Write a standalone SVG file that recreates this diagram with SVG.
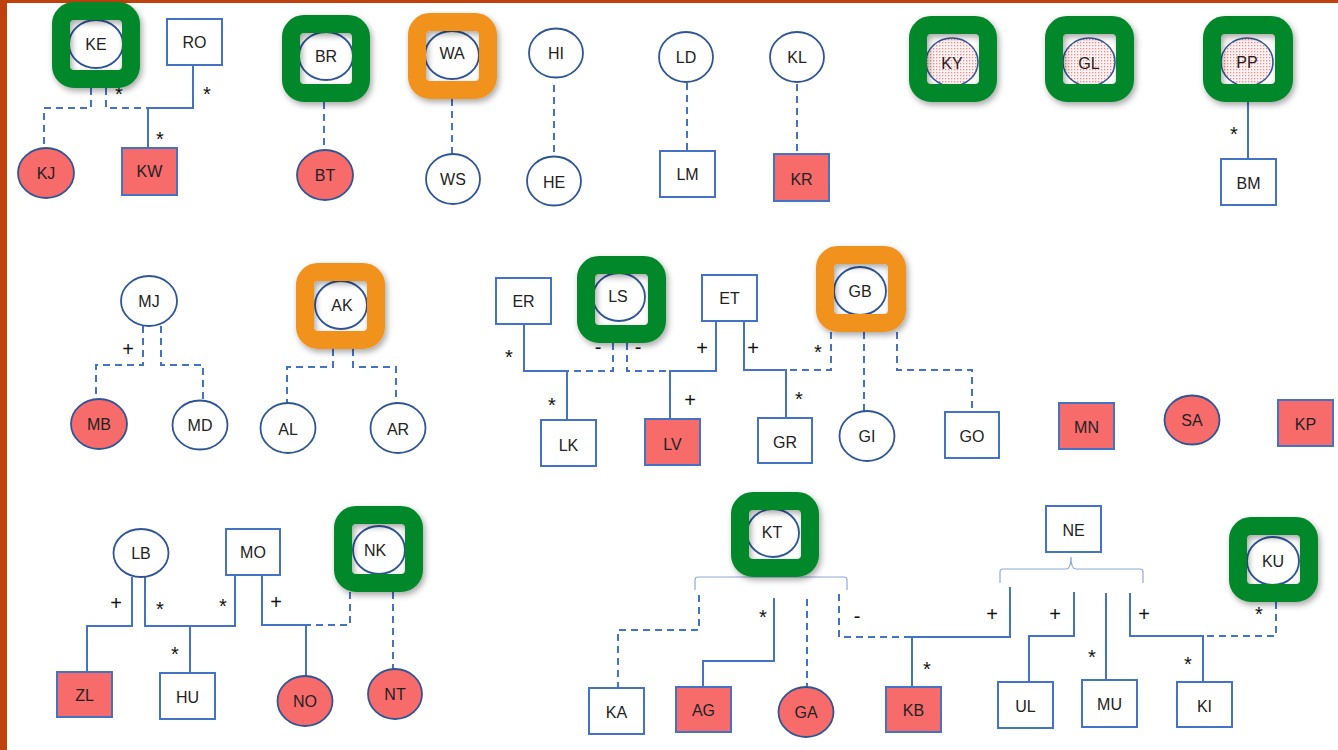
<svg xmlns="http://www.w3.org/2000/svg" width="1338" height="750" viewBox="0 0 1338 750">
<defs>
<style>
.lbl{font-family:"Liberation Sans",Arial,sans-serif;font-size:16px;fill:#222;text-anchor:middle}
.mk{font-family:"Liberation Sans",Arial,sans-serif;font-size:20px;fill:#111;text-anchor:middle}
.el{fill:#fff;stroke:#2F5597;stroke-width:1.8}
.elr{fill:#F76B6B;stroke:#2F5597;stroke-width:1.8}
.elp{fill:url(#dots);stroke:#2F5597;stroke-width:1.5}
.rc{fill:#fff;stroke:#4472C4;stroke-width:2}
.rcr{fill:#F76B6B;stroke:#4472C4;stroke-width:2}
.s{fill:none;stroke:#4472C4;stroke-width:2}
.d{fill:none;stroke:#4472C4;stroke-width:2;stroke-dasharray:7 5}
.br{fill:none;stroke:#8FAADC;stroke-width:1.2}
.gb{fill:none;stroke:#00882B;stroke-width:18;filter:url(#sh)}
.ob{fill:none;stroke:#F0921D;stroke-width:18;filter:url(#sh)}
</style>
<pattern id="dots" width="3" height="3" patternUnits="userSpaceOnUse">
<rect width="3" height="3" fill="#FFF4F4"/>
<rect width="1.3" height="1.3" fill="#F08A8A"/>
</pattern>
<filter id="sh" x="-20%" y="-20%" width="150%" height="150%">
<feDropShadow dx="2" dy="3" stdDeviation="3" flood-color="#000" flood-opacity="0.35"/>
</filter>
</defs>
<rect width="1338" height="750" fill="#fff"/>
<rect x="0" y="0" width="7" height="750" fill="#C0410B"/>
<rect x="0" y="0" width="1338" height="3" fill="#C0410B"/>

<g id="connectors">
<path class="d" d="M91,88 V108 H44 V148"/>
<path class="d" d="M106,88 V108 H148"/>
<path class="s" d="M193,65 V108 H148 V148"/>
<path class="d" d="M324,102 V150"/>
<path class="d" d="M452,99 V154"/>
<path class="d" d="M554,85 V157"/>
<path class="d" d="M687,83 V151"/>
<path class="d" d="M797,84 V154"/>
<path class="s" d="M1248,102 V159"/>
<path class="d" d="M143,326 V365 H96 V399"/>
<path class="d" d="M161,326 V365 H203 V401"/>
<path class="d" d="M333,349 V367 H287 V403"/>
<path class="d" d="M353,349 V367 H396 V403"/>
<path class="s" d="M524,324 V371 H567 V420"/>
<path class="d" d="M613,343 V371 H567"/>
<path class="d" d="M627,343 V371 H670"/>
<path class="s" d="M716,321 V371 H670 V419"/>
<path class="s" d="M744,321 V370 H786 V418"/>
<path class="d" d="M831,332 V370 H786"/>
<path class="d" d="M864,332 V411"/>
<path class="d" d="M897,332 V370 H972 V412"/>
<path class="s" d="M132,577 V626 H87 V672"/>
<path class="s" d="M145,577 V626 H235 V575"/>
<path class="s" d="M190,626 V673"/>
<path class="s" d="M262,575 V625 H306 V676"/>
<path class="d" d="M350,592 V625 H306"/>
<path class="d" d="M393,592 V669"/>
<path class="br" d="M695,590 V580 Q695,577 698,577 H844 Q847,577 847,580 V590"/>
<path class="d" d="M699,595 V630 H618 V688"/>
<path class="s" d="M774,598 V661 H703 V687"/>
<path class="d" d="M807,599 V687"/>
<path class="d" d="M839,594 V637 H912"/>
<path class="s" d="M1010,587 V637 H912 V687"/>
<path class="br" d="M1000,583 V572 Q1000,569 1003,569 H1066 Q1071,569 1071,557 Q1071,569 1076,569 H1140 Q1143,569 1143,572 V583"/>
<path class="s" d="M1074,592 V636 H1029 V682"/>
<path class="s" d="M1106,593 V680"/>
<path class="s" d="M1130,593 V636 H1203 V682"/>
<path class="d" d="M1276,602 V636 H1203"/>
<text class="mk" x="119" y="101">*</text>
<text class="mk" x="207" y="101">*</text>
<text class="mk" x="160" y="146">*</text>
<text class="mk" x="1234" y="141">*</text>
<text class="mk" x="128" y="356">+</text>
<text class="mk" x="509" y="364">*</text>
<text class="mk" x="552" y="412">*</text>
<text class="mk" x="598" y="354">-</text>
<text class="mk" x="638" y="354">-</text>
<text class="mk" x="702" y="355">+</text>
<text class="mk" x="690" y="407">+</text>
<text class="mk" x="753" y="355">+</text>
<text class="mk" x="818" y="359">*</text>
<text class="mk" x="799" y="406">*</text>
<text class="mk" x="116" y="610">+</text>
<text class="mk" x="160" y="616">*</text>
<text class="mk" x="223" y="613">*</text>
<text class="mk" x="175" y="661">*</text>
<text class="mk" x="276" y="609">+</text>
<text class="mk" x="763" y="624">*</text>
<text class="mk" x="857" y="623">-</text>
<text class="mk" x="927" y="676">*</text>
<text class="mk" x="992" y="621">+</text>
<text class="mk" x="1055" y="621">+</text>
<text class="mk" x="1092" y="664">*</text>
<text class="mk" x="1144" y="621">+</text>
<text class="mk" x="1259" y="621">*</text>
<text class="mk" x="1188" y="671">*</text>
</g>

<g id="KE"><ellipse class="el" cx="96" cy="44" rx="27" ry="24"/><text class="lbl" x="96" y="50">KE</text><rect class="gb" x="61" y="11" width="70" height="68" rx="13"/></g>
<g id="RO"><rect class="rc" x="167" y="19" width="55" height="46"/><text class="lbl" x="194.5" y="48">RO</text></g>
<g id="KJ"><ellipse class="elr" cx="46" cy="173" rx="28" ry="25"/><text class="lbl" x="46" y="179">KJ</text></g>
<g id="KW"><rect class="rcr" x="122" y="148" width="55" height="47"/><text class="lbl" x="149.5" y="177">KW</text></g>
<g id="BR"><ellipse class="el" cx="326" cy="56" rx="27" ry="24"/><text class="lbl" x="326" y="62">BR</text><rect class="gb" x="291" y="24" width="70" height="69" rx="13"/></g>
<g id="BT"><ellipse class="elr" cx="325" cy="175" rx="28" ry="25"/><text class="lbl" x="325" y="181">BT</text></g>
<g id="WA"><ellipse class="el" cx="452" cy="55" rx="27" ry="24"/><text class="lbl" x="452" y="59">WA</text><rect class="ob" x="417" y="22" width="71" height="68" rx="13"/></g>
<g id="WS"><ellipse class="el" cx="453" cy="179" rx="27" ry="25"/><text class="lbl" x="453" y="185">WS</text></g>
<g id="HI"><ellipse class="el" cx="556" cy="53" rx="27" ry="24.5"/><text class="lbl" x="556" y="59">HI</text></g>
<g id="HE"><ellipse class="el" cx="554" cy="181" rx="27" ry="24.5"/><text class="lbl" x="554" y="188">HE</text></g>
<g id="LD"><ellipse class="el" cx="686" cy="57" rx="27" ry="25"/><text class="lbl" x="686" y="63">LD</text></g>
<g id="LM"><rect class="rc" x="660" y="151" width="55" height="46"/><text class="lbl" x="687.5" y="180">LM</text></g>
<g id="KL"><ellipse class="el" cx="797" cy="57" rx="27" ry="25"/><text class="lbl" x="797" y="63">KL</text></g>
<g id="KR"><rect class="rcr" x="774" y="154" width="55" height="47"/><text class="lbl" x="801.5" y="185">KR</text></g>
<g id="KY"><ellipse class="elp" cx="952" cy="62" rx="26" ry="24"/><text class="lbl" x="952" y="69">KY</text><rect class="gb" x="918" y="25" width="70" height="68" rx="13"/></g>
<g id="GL"><ellipse class="elp" cx="1089" cy="62" rx="26" ry="24"/><text class="lbl" x="1089" y="69">GL</text><rect class="gb" x="1054" y="25" width="71" height="68" rx="13"/></g>
<g id="PP"><ellipse class="elp" cx="1247" cy="62" rx="26" ry="24"/><text class="lbl" x="1247" y="68">PP</text><rect class="gb" x="1212" y="25" width="72" height="68" rx="13"/></g>
<g id="BM"><rect class="rc" x="1221" y="159" width="55" height="46"/><text class="lbl" x="1248.5" y="189">BM</text></g>

<g id="MJ"><ellipse class="el" cx="149" cy="301" rx="28" ry="25"/><text class="lbl" x="149" y="307">MJ</text></g>
<g id="MB"><ellipse class="elr" cx="99" cy="424" rx="28" ry="25"/><text class="lbl" x="99" y="430">MB</text></g>
<g id="MD"><ellipse class="el" cx="200" cy="425" rx="27.5" ry="24.5"/><text class="lbl" x="200" y="431">MD</text></g>
<g id="AK"><ellipse class="el" cx="341" cy="305" rx="26" ry="24"/><text class="lbl" x="342" y="311">AK</text><rect class="ob" x="305" y="272" width="71" height="68" rx="13"/></g>
<g id="AL"><ellipse class="el" cx="288" cy="428" rx="27.5" ry="25"/><text class="lbl" x="288" y="435">AL</text></g>
<g id="AR"><ellipse class="el" cx="398" cy="428" rx="27.5" ry="25"/><text class="lbl" x="398" y="435">AR</text></g>
<g id="ER"><rect class="rc" x="496" y="278" width="55" height="46"/><text class="lbl" x="523.5" y="307">ER</text></g>
<g id="LS"><ellipse class="el" cx="619" cy="297" rx="26" ry="24"/><text class="lbl" x="618" y="302">LS</text><rect class="gb" x="586" y="265" width="71" height="69" rx="13"/></g>
<g id="ET"><rect class="rc" x="702" y="275" width="55" height="46"/><text class="lbl" x="729.5" y="304">ET</text></g>
<g id="GB"><ellipse class="el" cx="860" cy="291" rx="26" ry="24"/><text class="lbl" x="860" y="297">GB</text><rect class="ob" x="825" y="255" width="72" height="68" rx="13"/></g>
<g id="LK"><rect class="rc" x="541" y="420" width="55" height="46"/><text class="lbl" x="568.5" y="451">LK</text></g>
<g id="LV"><rect class="rcr" x="645" y="419" width="55" height="46"/><text class="lbl" x="672.5" y="450">LV</text></g>
<g id="GR"><rect class="rc" x="758" y="418" width="54" height="45"/><text class="lbl" x="785" y="448">GR</text></g>
<g id="GI"><ellipse class="el" cx="867" cy="436" rx="27.5" ry="25"/><text class="lbl" x="867" y="442">GI</text></g>
<g id="GO"><rect class="rc" x="945" y="412" width="54" height="46"/><text class="lbl" x="972" y="442">GO</text></g>
<g id="MN"><rect class="rcr" x="1059" y="403" width="55" height="46"/><text class="lbl" x="1086.5" y="433">MN</text></g>
<g id="SA"><ellipse class="elr" cx="1192" cy="420" rx="27.5" ry="24.5"/><text class="lbl" x="1192" y="426">SA</text></g>
<g id="KP"><rect class="rcr" x="1278" y="400" width="55" height="46"/><text class="lbl" x="1305.5" y="430">KP</text></g>

<g id="LB"><ellipse class="el" cx="141" cy="553" rx="27.5" ry="24"/><text class="lbl" x="141" y="559">LB</text></g>
<g id="MO"><rect class="rc" x="226" y="529" width="54" height="46"/><text class="lbl" x="253" y="558">MO</text></g>
<g id="NK"><ellipse class="el" cx="379" cy="550" rx="26" ry="24"/><text class="lbl" x="375" y="556">NK</text><rect class="gb" x="343" y="515" width="71" height="68" rx="13"/></g>
<g id="ZL"><rect class="rcr" x="57" y="672" width="55" height="45"/><text class="lbl" x="84.5" y="701">ZL</text></g>
<g id="HU"><rect class="rc" x="160" y="673" width="55" height="46"/><text class="lbl" x="187.5" y="703">HU</text></g>
<g id="NO"><ellipse class="elr" cx="305" cy="701" rx="27.5" ry="25"/><text class="lbl" x="305" y="707">NO</text></g>
<g id="NT"><ellipse class="elr" cx="395" cy="694" rx="27" ry="25"/><text class="lbl" x="395" y="700">NT</text></g>
<g id="KT"><ellipse class="el" cx="773" cy="533" rx="26" ry="24"/><text class="lbl" x="772" y="538">KT</text><rect class="gb" x="740" y="501" width="70" height="67" rx="13"/></g>
<g id="KA"><rect class="rc" x="589" y="688" width="55" height="46"/><text class="lbl" x="616.5" y="718">KA</text></g>
<g id="AG"><rect class="rcr" x="676" y="687" width="55" height="45"/><text class="lbl" x="703.5" y="716">AG</text></g>
<g id="GA"><ellipse class="elr" cx="806" cy="712" rx="27.5" ry="25"/><text class="lbl" x="806" y="718">GA</text></g>
<g id="KB"><rect class="rcr" x="886" y="687" width="55" height="45"/><text class="lbl" x="913.5" y="716">KB</text></g>
<g id="NE"><rect class="rc" x="1046" y="506" width="55" height="46"/><text class="lbl" x="1073.5" y="536">NE</text></g>
<g id="KU"><ellipse class="el" cx="1273" cy="561" rx="26" ry="24"/><text class="lbl" x="1273" y="567">KU</text><rect class="gb" x="1238" y="526" width="71" height="67" rx="13"/></g>
<g id="UL"><rect class="rc" x="998" y="682" width="55" height="46"/><text class="lbl" x="1025.5" y="712">UL</text></g>
<g id="MU"><rect class="rc" x="1082" y="680" width="55" height="47"/><text class="lbl" x="1109.5" y="710">MU</text></g>
<g id="KI"><rect class="rc" x="1177" y="682" width="55" height="45"/><text class="lbl" x="1204.5" y="712">KI</text></g>
</svg>
